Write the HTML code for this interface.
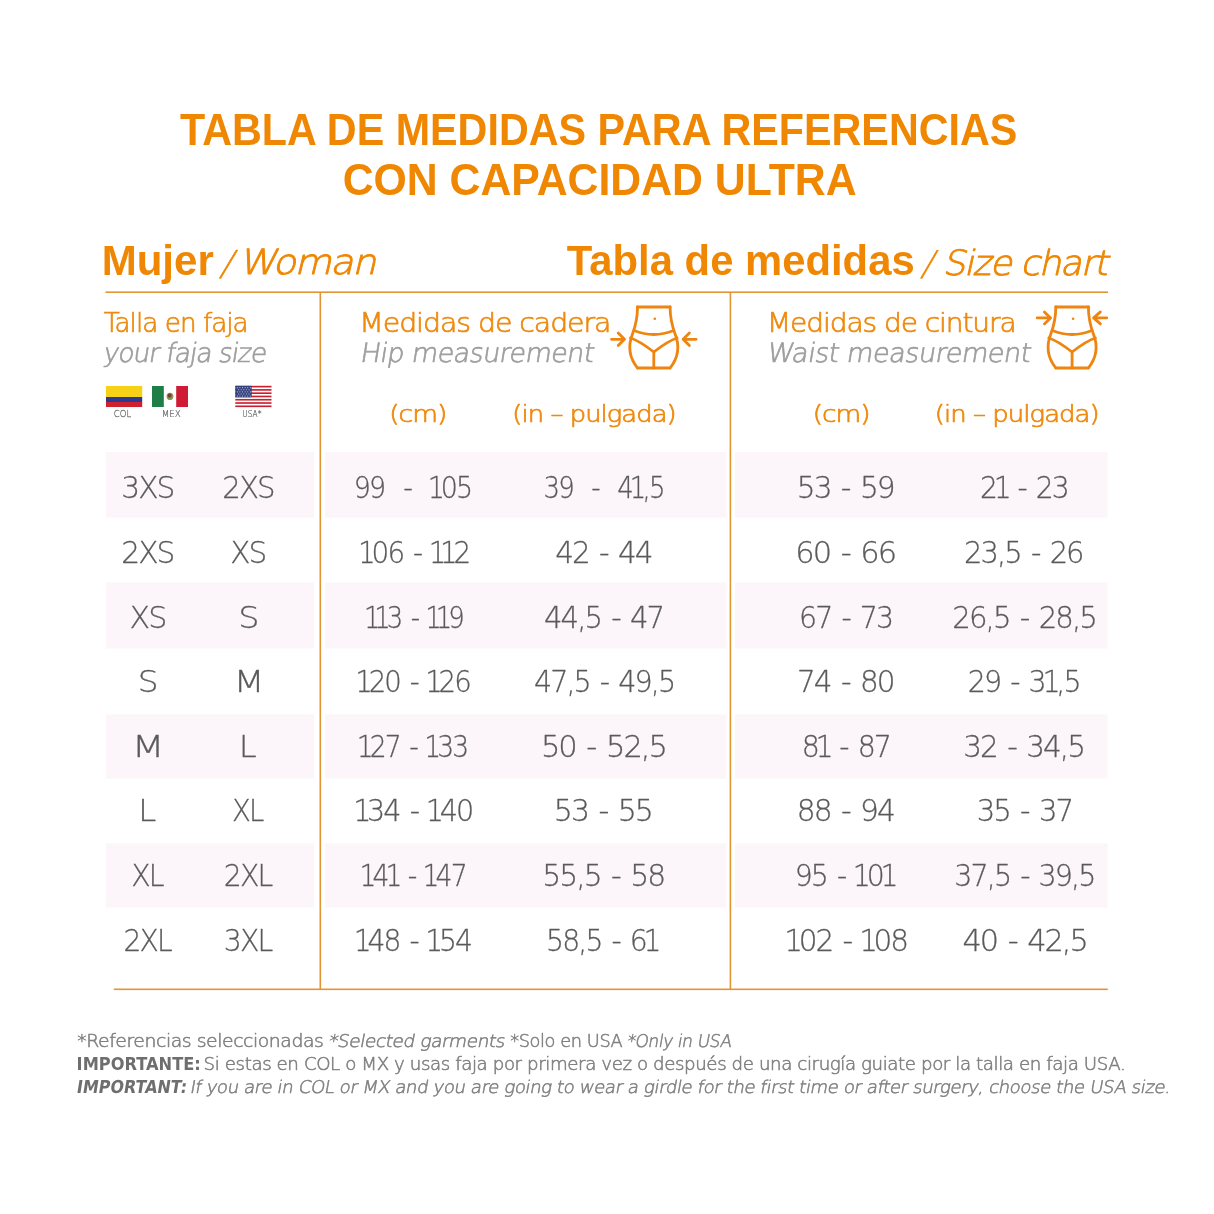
<!DOCTYPE html>
<html lang="es">
<head>
<meta charset="utf-8">
<title>Tabla de medidas</title>
<style>
html,body{margin:0;padding:0;background:#fff;}
body{width:1214px;height:1214px;overflow:hidden;position:relative;}
svg{position:absolute;left:0;top:0;}
</style>
</head>
<body>
<svg width="1214" height="1214" viewBox="0 0 1214 1214">
<rect width="1214" height="1214" fill="#fff"/>
<!-- pink bands -->
<g fill="#FCF5FA">
<rect x="106" y="452" width="208" height="65.5"/><rect x="325" y="452" width="401" height="65.5"/><rect x="735" y="452" width="372.5" height="65.5"/>
<rect x="106" y="582.5" width="208" height="66"/><rect x="325" y="582.5" width="401" height="66"/><rect x="735" y="582.5" width="372.5" height="66"/>
<rect x="106" y="714.5" width="208" height="64"/><rect x="325" y="714.5" width="401" height="64"/><rect x="735" y="714.5" width="372.5" height="64"/>
<rect x="106" y="843.5" width="208" height="64"/><rect x="325" y="843.5" width="401" height="64"/><rect x="735" y="843.5" width="372.5" height="64"/>
</g>
<!-- lines -->
<g fill="#E29633">
<rect x="105.5" y="291.4" width="1002.5" height="1.6"/>
<rect x="113.8" y="988.5" width="994" height="1.6"/>
<rect x="319.5" y="292" width="1.6" height="697.5"/>
<rect x="729.6" y="292" width="1.6" height="697.5"/>
</g>
<!-- flags -->
<g>
<rect x="106" y="386" width="36.2" height="11" fill="#F7D117"/>
<rect x="106" y="397" width="36.2" height="5" fill="#2B3990"/>
<rect x="106" y="402" width="36.2" height="5" fill="#D0202E"/>
<rect x="152" y="386" width="11.8" height="21" fill="#1E7E45"/>
<rect x="176.2" y="386" width="11.8" height="21" fill="#CF1B34"/>
<ellipse cx="170" cy="396.3" rx="3.4" ry="3.6" fill="#A58A5A"/>
<ellipse cx="169.6" cy="395.6" rx="2.0" ry="2.2" fill="#6B4A26"/>
<ellipse cx="170" cy="398.8" rx="2.6" ry="1.0" fill="#7C9A5A" opacity="0.8"/>
</g>
<g>
<rect x="235.3" y="385.8" width="36.2" height="21.3" fill="#fff"/>
<g fill="#C8202F">
<rect x="235.3" y="385.8" width="36.2" height="1.64"/>
<rect x="235.3" y="389.08" width="36.2" height="1.64"/>
<rect x="235.3" y="392.36" width="36.2" height="1.64"/>
<rect x="235.3" y="395.64" width="36.2" height="1.64"/>
<rect x="235.3" y="398.92" width="36.2" height="1.64"/>
<rect x="235.3" y="402.2" width="36.2" height="1.64"/>
<rect x="235.3" y="405.48" width="36.2" height="1.64"/>
</g>
<rect x="235.3" y="385.8" width="16.4" height="11.5" fill="#34407E"/>
<g fill="#C9CDE0"><rect x="236.8" y="387.2" width="1" height="1"/><rect x="239.4" y="387.2" width="1" height="1"/><rect x="242.0" y="387.2" width="1" height="1"/><rect x="244.6" y="387.2" width="1" height="1"/><rect x="247.2" y="387.2" width="1" height="1"/><rect x="249.8" y="387.2" width="1" height="1"/><rect x="238.1" y="389.3" width="1" height="1"/><rect x="240.7" y="389.3" width="1" height="1"/><rect x="243.3" y="389.3" width="1" height="1"/><rect x="245.9" y="389.3" width="1" height="1"/><rect x="248.5" y="389.3" width="1" height="1"/><rect x="236.8" y="391.4" width="1" height="1"/><rect x="239.4" y="391.4" width="1" height="1"/><rect x="242.0" y="391.4" width="1" height="1"/><rect x="244.6" y="391.4" width="1" height="1"/><rect x="247.2" y="391.4" width="1" height="1"/><rect x="249.8" y="391.4" width="1" height="1"/><rect x="238.1" y="393.5" width="1" height="1"/><rect x="240.7" y="393.5" width="1" height="1"/><rect x="243.3" y="393.5" width="1" height="1"/><rect x="245.9" y="393.5" width="1" height="1"/><rect x="248.5" y="393.5" width="1" height="1"/><rect x="236.8" y="395.6" width="1" height="1"/><rect x="239.4" y="395.6" width="1" height="1"/><rect x="242.0" y="395.6" width="1" height="1"/><rect x="244.6" y="395.6" width="1" height="1"/><rect x="247.2" y="395.6" width="1" height="1"/><rect x="249.8" y="395.6" width="1" height="1"/></g>
</g>
<!-- icons -->
<g id="hipicon" fill="none" stroke="#EE8510" stroke-width="2.8" stroke-linecap="round" stroke-linejoin="round">
<path d="M637.5,307 H670.1"/>
<path d="M637.5,307 C637.5,318 635.5,326 632.5,334 C628.5,344 628,356 637.5,368"/>
<path d="M670.1,307 C670.1,318 672.1,326 675.1,334 C679.1,344 679.6,356 670.1,368"/>
<path d="M637.5,368 H670.1"/>
<path d="M634,330.5 Q653.8,338.5 673.6,330.5"/>
<path d="M630.5,338 C637,340 646,346 653.8,352 C661.6,346 670.6,340 677.1,338"/>
<path d="M653.8,352 V368"/>
<path d="M611.5,339.3 H624.5 M618.2,333 L624.5,339.3 L618.2,345.6"/>
<path d="M696.1,339.3 H683.1 M689.4,333 L683.1,339.3 L689.4,345.6"/>
<circle cx="654.8" cy="318.7" r="1.3" fill="#EE8510" stroke="none"/>
</g>
<g fill="none" stroke="#EE8510" stroke-width="2.8" stroke-linecap="round" stroke-linejoin="round">
<g transform="translate(418.3 0)">
<path d="M637.5,307 H670.1"/>
<path d="M637.5,307 C637.5,318 635.5,326 632.5,334 C628.5,344 628,356 637.5,368"/>
<path d="M670.1,307 C670.1,318 672.1,326 675.1,334 C679.1,344 679.6,356 670.1,368"/>
<path d="M637.5,368 H670.1"/>
<path d="M634,330.5 Q653.8,338.5 673.6,330.5"/>
<path d="M630.5,338 C637,340 646,346 653.8,352 C661.6,346 670.6,340 677.1,338"/>
<path d="M653.8,352 V368"/>
<circle cx="654.8" cy="318.7" r="1.3" fill="#EE8510" stroke="none"/>
</g>
<path d="M1037.2,317.9 H1050.6 M1044.4,311.9 L1050.6,317.9 L1044.4,323.9"/>
<path d="M1106.7,317.9 H1093.6 M1100.4,311.9 L1093.6,317.9 L1100.4,323.9"/>
</g>
<!-- texts -->
<text transform="translate(180.08 145.00) scale(0.9305 1)" style="font-family:'Liberation Sans', sans-serif;font-weight:bold;font-size:44.387px;fill:#EF8703">TABLA DE MEDIDAS PARA REFERENCIAS</text>
<text transform="translate(342.70 194.70) scale(0.9613 1)" style="font-family:'Liberation Sans', sans-serif;font-weight:bold;font-size:44.502px;fill:#EF8703">CON CAPACIDAD ULTRA</text>
<text transform="translate(101.65 274.80) scale(0.9942 1)" style="font-family:'Liberation Sans', sans-serif;font-weight:bold;font-size:42.290px;fill:#EF8703">Mujer</text>
<text transform="translate(219.83 275.17) scale(0.9450 1) skewX(-18.00)" style="font-family:'DejaVu Sans', sans-serif;font-weight:200;font-size:34.192px;stroke:#EF8703;stroke-width:0.60px;stroke-linejoin:round;fill:#EF8703">/</text>
<text transform="translate(238.39 274.30) scale(1.1066 1) skewX(-12.00)" style="font-family:'DejaVu Sans', sans-serif;font-weight:200;font-size:34.726px;letter-spacing:-1.50px;stroke:#EF8703;stroke-width:0.90px;stroke-linejoin:round;fill:#EF8703">Woman</text>
<text transform="translate(566.87 274.80) scale(0.9889 1)" style="font-family:'Liberation Sans', sans-serif;font-weight:bold;font-size:42.290px;fill:#EF8703">Tabla de medidas</text>
<text transform="translate(920.91 275.17) scale(0.9203 1) skewX(-18.00)" style="font-family:'DejaVu Sans', sans-serif;font-weight:200;font-size:33.802px;stroke:#EF8703;stroke-width:0.60px;stroke-linejoin:round;fill:#EF8703">/</text>
<text transform="translate(942.38 274.50) scale(1.0409 1) skewX(-12.00)" style="font-family:'DejaVu Sans', sans-serif;font-weight:200;font-size:34.726px;letter-spacing:-1.50px;stroke:#EF8703;stroke-width:0.90px;stroke-linejoin:round;fill:#EF8703">Size chart</text>
<text transform="translate(103.78 332.40) scale(0.9675 1)" style="font-family:'DejaVu Sans', sans-serif;font-weight:200;font-size:27.124px;letter-spacing:-1.00px;stroke:#EE8A0E;stroke-width:0.70px;stroke-linejoin:round;fill:#EE8A0E">Talla en faja</text>
<text transform="translate(102.61 361.80) scale(0.9939 1) skewX(-9.00)" style="font-family:'DejaVu Sans', sans-serif;font-weight:200;font-size:26.550px;letter-spacing:-1.00px;stroke:#9E9E9E;stroke-width:0.70px;stroke-linejoin:round;fill:#9E9E9E">your faja size</text>
<text transform="translate(359.32 332.10) scale(1.0692 1)" style="font-family:'DejaVu Sans', sans-serif;font-weight:200;font-size:26.582px;letter-spacing:-1.00px;stroke:#EE8A0E;stroke-width:0.70px;stroke-linejoin:round;fill:#EE8A0E">Medidas de cadera</text>
<text transform="translate(359.47 361.70) scale(1.0116 1) skewX(-9.00)" style="font-family:'DejaVu Sans', sans-serif;font-weight:200;font-size:26.582px;letter-spacing:-0.50px;stroke:#9E9E9E;stroke-width:0.70px;stroke-linejoin:round;fill:#9E9E9E">Hip measurement</text>
<text transform="translate(766.98 332.10) scale(1.0541 1)" style="font-family:'DejaVu Sans', sans-serif;font-weight:200;font-size:26.582px;letter-spacing:-1.00px;stroke:#EE8A0E;stroke-width:0.70px;stroke-linejoin:round;fill:#EE8A0E">Medidas de cintura</text>
<text transform="translate(766.23 361.70) scale(1.0216 1) skewX(-9.00)" style="font-family:'DejaVu Sans', sans-serif;font-weight:200;font-size:26.582px;letter-spacing:-0.50px;stroke:#9E9E9E;stroke-width:0.70px;stroke-linejoin:round;fill:#9E9E9E">Waist measurement</text>
<text transform="translate(389.15 421.90) scale(1.1737 1)" style="font-family:'DejaVu Sans', sans-serif;font-weight:200;font-size:22.558px;letter-spacing:-0.80px;stroke:#EE8A0E;stroke-width:0.70px;stroke-linejoin:round;fill:#EE8A0E">(cm)</text>
<text transform="translate(512.31 421.90) scale(1.1442 1)" style="font-family:'DejaVu Sans', sans-serif;font-weight:200;font-size:22.558px;letter-spacing:-0.80px;stroke:#EE8A0E;stroke-width:0.70px;stroke-linejoin:round;fill:#EE8A0E">(in – pulgada)</text>
<text transform="translate(812.66 421.90) scale(1.1693 1)" style="font-family:'DejaVu Sans', sans-serif;font-weight:200;font-size:22.558px;letter-spacing:-0.80px;stroke:#EE8A0E;stroke-width:0.70px;stroke-linejoin:round;fill:#EE8A0E">(cm)</text>
<text transform="translate(934.70 421.90) scale(1.1484 1)" style="font-family:'DejaVu Sans', sans-serif;font-weight:200;font-size:22.558px;letter-spacing:-0.80px;stroke:#EE8A0E;stroke-width:0.70px;stroke-linejoin:round;fill:#EE8A0E">(in – pulgada)</text>
<text transform="translate(113.79 417.20) scale(0.9109 1)" style="font-family:'DejaVu Sans', sans-serif;font-weight:200;font-size:9.317px;stroke:#6a6a6a;stroke-width:0.25px;stroke-linejoin:round;fill:#6a6a6a">COL</text>
<text transform="translate(161.74 417.20) scale(0.9436 1)" style="font-family:'DejaVu Sans', sans-serif;font-weight:200;font-size:9.317px;stroke:#6a6a6a;stroke-width:0.25px;stroke-linejoin:round;fill:#6a6a6a">MEX</text>
<text transform="translate(242.20 417.20) scale(0.8029 1)" style="font-family:'DejaVu Sans', sans-serif;font-weight:200;font-size:9.317px;stroke:#6a6a6a;stroke-width:0.25px;stroke-linejoin:round;fill:#6a6a6a">USA*</text>
<text transform="translate(77.24 1047.40) scale(1.0779 1)" style="font-family:'DejaVu Sans', sans-serif;font-weight:200;font-size:17.465px;letter-spacing:-0.40px;stroke:#808080;stroke-width:0.55px;stroke-linejoin:round;fill:#808080">*Referencias seleccionadas</text>
<text transform="translate(327.93 1047.40) scale(1.0646 1) skewX(-10.00)" style="font-family:'DejaVu Sans', sans-serif;font-weight:200;font-size:17.465px;letter-spacing:-0.40px;stroke:#808080;stroke-width:0.55px;stroke-linejoin:round;fill:#808080">*Selected garments</text>
<text transform="translate(510.16 1047.40) scale(1.0182 1)" style="font-family:'DejaVu Sans', sans-serif;font-weight:200;font-size:17.465px;letter-spacing:-0.40px;stroke:#808080;stroke-width:0.55px;stroke-linejoin:round;fill:#808080">*Solo en USA</text>
<text transform="translate(626.38 1047.40) scale(0.9748 1) skewX(-10.00)" style="font-family:'DejaVu Sans', sans-serif;font-weight:200;font-size:17.465px;letter-spacing:-0.40px;stroke:#808080;stroke-width:0.55px;stroke-linejoin:round;fill:#808080">*Only in USA</text>
<text transform="translate(76.59 1070.00) scale(0.9067 1)" style="font-family:'DejaVu Sans', sans-serif;font-weight:bold;font-size:17.901px;fill:#6E6E6E">IMPORTANTE:</text>
<text transform="translate(203.61 1070.00) scale(1.0439 1)" style="font-family:'DejaVu Sans', sans-serif;font-weight:200;font-size:17.465px;letter-spacing:-0.40px;stroke:#808080;stroke-width:0.55px;stroke-linejoin:round;fill:#808080">Si estas en COL o MX y usas faja por primera vez o después de una cirugía guiate por la talla en faja USA.</text>
<text transform="translate(76.12 1092.60) scale(0.8893 1) skewX(-10.00)" style="font-family:'DejaVu Sans', sans-serif;font-weight:bold;font-size:17.901px;fill:#6E6E6E">IMPORTANT:</text>
<text transform="translate(189.52 1092.60) scale(1.0388 1) skewX(-10.00)" style="font-family:'DejaVu Sans', sans-serif;font-weight:200;font-size:17.465px;letter-spacing:-0.40px;stroke:#808080;stroke-width:0.55px;stroke-linejoin:round;fill:#808080">If you are in COL or MX and you are going to wear a girdle for the first time or after surgery, choose the USA size.</text>
<text transform="translate(121.33 498.40) scale(0.9874 1)" style="font-family:'DejaVu Sans', sans-serif;font-weight:200;font-size:30.047px;letter-spacing:-2.00px;stroke:#5A5A5A;stroke-width:0.30px;stroke-linejoin:round;fill:#5A5A5A"><tspan dx="0.0 0.0 0.0">3XS</tspan></text>
<text transform="translate(222.26 498.40) scale(0.9715 1)" style="font-family:'DejaVu Sans', sans-serif;font-weight:200;font-size:30.047px;letter-spacing:-2.00px;stroke:#5A5A5A;stroke-width:0.30px;stroke-linejoin:round;fill:#5A5A5A"><tspan dx="0.0 0.0 0.0">2XS</tspan></text>
<text transform="translate(353.82 498.40) scale(0.8930 1)" style="font-family:'DejaVu Sans', sans-serif;font-weight:200;font-size:30.047px;letter-spacing:-2.00px;stroke:#5A5A5A;stroke-width:0.30px;stroke-linejoin:round;fill:#5A5A5A"><tspan dx="0.0 0.0 0.0 3.0 3.0 0.0 3.0 0.5 -2.5 0.0">99  -  105</tspan></text>
<text transform="translate(543.57 498.40) scale(0.8625 1)" style="font-family:'DejaVu Sans', sans-serif;font-weight:200;font-size:30.047px;letter-spacing:-2.00px;stroke:#5A5A5A;stroke-width:0.30px;stroke-linejoin:round;fill:#5A5A5A"><tspan dx="0.0 0.0 0.0 3.0 3.0 0.0 3.0 3.0 -2.5 -2.5 0.0">39  -  41,5</tspan></text>
<text transform="translate(796.78 498.40) scale(0.9839 1)" style="font-family:'DejaVu Sans', sans-serif;font-weight:200;font-size:30.047px;letter-spacing:-2.00px;stroke:#5A5A5A;stroke-width:0.30px;stroke-linejoin:round;fill:#5A5A5A"><tspan dx="0.0 0.0 0.0 3.0 0.0 3.0 0.0">53 - 59</tspan></text>
<text transform="translate(980.12 498.40) scale(0.9387 1)" style="font-family:'DejaVu Sans', sans-serif;font-weight:200;font-size:30.047px;letter-spacing:-2.00px;stroke:#5A5A5A;stroke-width:0.30px;stroke-linejoin:round;fill:#5A5A5A"><tspan dx="0.0 -2.5 -2.5 3.0 0.0 3.0 0.0">21 - 23</tspan></text>
<text transform="translate(121.33 563.00) scale(0.9874 1)" style="font-family:'DejaVu Sans', sans-serif;font-weight:200;font-size:30.047px;letter-spacing:-2.00px;stroke:#5A5A5A;stroke-width:0.30px;stroke-linejoin:round;fill:#5A5A5A"><tspan dx="0.0 0.0 0.0">2XS</tspan></text>
<text transform="translate(230.26 563.00) scale(0.9832 1)" style="font-family:'DejaVu Sans', sans-serif;font-weight:200;font-size:30.047px;letter-spacing:-2.00px;stroke:#5A5A5A;stroke-width:0.30px;stroke-linejoin:round;fill:#5A5A5A"><tspan dx="0.0 0.0">XS</tspan></text>
<text transform="translate(360.38 563.00) scale(0.9250 1)" style="font-family:'DejaVu Sans', sans-serif;font-weight:200;font-size:30.047px;letter-spacing:-2.00px;stroke:#5A5A5A;stroke-width:0.30px;stroke-linejoin:round;fill:#5A5A5A"><tspan dx="-2.5 -2.5 0.0 0.0 3.0 0.0 0.5 -5.0 -2.5">106 - 112</tspan></text>
<text transform="translate(555.20 563.00) scale(0.9784 1)" style="font-family:'DejaVu Sans', sans-serif;font-weight:200;font-size:30.047px;letter-spacing:-2.00px;stroke:#5A5A5A;stroke-width:0.30px;stroke-linejoin:round;fill:#5A5A5A"><tspan dx="0.0 0.0 0.0 3.0 0.0 3.0 0.0">42 - 44</tspan></text>
<text transform="translate(795.30 563.00) scale(1.0133 1)" style="font-family:'DejaVu Sans', sans-serif;font-weight:200;font-size:30.047px;letter-spacing:-2.00px;stroke:#5A5A5A;stroke-width:0.30px;stroke-linejoin:round;fill:#5A5A5A"><tspan dx="0.0 0.0 0.0 3.0 0.0 3.0 0.0">60 - 66</tspan></text>
<text transform="translate(964.07 563.00) scale(0.9630 1)" style="font-family:'DejaVu Sans', sans-serif;font-weight:200;font-size:30.047px;letter-spacing:-2.00px;stroke:#5A5A5A;stroke-width:0.30px;stroke-linejoin:round;fill:#5A5A5A"><tspan dx="0.0 0.0 0.0 0.0 0.0 3.0 0.0 3.0 0.0">23,5 - 26</tspan></text>
<text transform="translate(129.53 627.60) scale(1.0010 1)" style="font-family:'DejaVu Sans', sans-serif;font-weight:200;font-size:30.047px;letter-spacing:-2.00px;stroke:#5A5A5A;stroke-width:0.30px;stroke-linejoin:round;fill:#5A5A5A"><tspan dx="0.0 0.0">XS</tspan></text>
<text transform="translate(238.23 627.60) scale(1.1143 1)" style="font-family:'DejaVu Sans', sans-serif;font-weight:200;font-size:30.047px;letter-spacing:-2.00px;stroke:#5A5A5A;stroke-width:0.30px;stroke-linejoin:round;fill:#5A5A5A"><tspan dx="0.0">S</tspan></text>
<text transform="translate(366.03 627.60) scale(0.8605 1)" style="font-family:'DejaVu Sans', sans-serif;font-weight:200;font-size:30.047px;letter-spacing:-2.00px;stroke:#5A5A5A;stroke-width:0.30px;stroke-linejoin:round;fill:#5A5A5A"><tspan dx="-2.5 -5.0 -2.5 0.0 3.0 0.0 0.5 -5.0 -2.5">113 - 119</tspan></text>
<text transform="translate(544.01 627.60) scale(0.9671 1)" style="font-family:'DejaVu Sans', sans-serif;font-weight:200;font-size:30.047px;letter-spacing:-2.00px;stroke:#5A5A5A;stroke-width:0.30px;stroke-linejoin:round;fill:#5A5A5A"><tspan dx="0.0 0.0 0.0 0.0 0.0 3.0 0.0 3.0 0.0">44,5 - 47</tspan></text>
<text transform="translate(799.08 627.60) scale(0.9444 1)" style="font-family:'DejaVu Sans', sans-serif;font-weight:200;font-size:30.047px;letter-spacing:-2.00px;stroke:#5A5A5A;stroke-width:0.30px;stroke-linejoin:round;fill:#5A5A5A"><tspan dx="0.0 0.0 0.0 3.0 0.0 3.0 0.0">67 - 73</tspan></text>
<text transform="translate(952.36 627.60) scale(0.9712 1)" style="font-family:'DejaVu Sans', sans-serif;font-weight:200;font-size:30.047px;letter-spacing:-2.00px;stroke:#5A5A5A;stroke-width:0.30px;stroke-linejoin:round;fill:#5A5A5A"><tspan dx="0.0 0.0 0.0 0.0 0.0 3.0 0.0 3.0 0.0 0.0 0.0">26,5 - 28,5</tspan></text>
<text transform="translate(137.79 692.20) scale(1.0929 1)" style="font-family:'DejaVu Sans', sans-serif;font-weight:200;font-size:30.047px;letter-spacing:-2.00px;stroke:#5A5A5A;stroke-width:0.30px;stroke-linejoin:round;fill:#5A5A5A"><tspan dx="0.0">S</tspan></text>
<text transform="translate(233.40 692.20) scale(1.2000 1)" style="font-family:'DejaVu Sans', sans-serif;font-weight:200;font-size:30.047px;letter-spacing:-2.00px;stroke:#5A5A5A;stroke-width:0.30px;stroke-linejoin:round;fill:#5A5A5A"><tspan dx="0.0">M</tspan></text>
<text transform="translate(357.59 692.20) scale(0.9165 1)" style="font-family:'DejaVu Sans', sans-serif;font-weight:200;font-size:30.047px;letter-spacing:-2.00px;stroke:#5A5A5A;stroke-width:0.30px;stroke-linejoin:round;fill:#5A5A5A"><tspan dx="-2.5 -2.5 0.0 0.0 3.0 0.0 0.5 -2.5 0.0">120 - 126</tspan></text>
<text transform="translate(533.93 692.20) scale(0.9495 1)" style="font-family:'DejaVu Sans', sans-serif;font-weight:200;font-size:30.047px;letter-spacing:-2.00px;stroke:#5A5A5A;stroke-width:0.30px;stroke-linejoin:round;fill:#5A5A5A"><tspan dx="0.0 0.0 0.0 0.0 0.0 3.0 0.0 3.0 0.0 0.0 0.0">47,5 - 49,5</tspan></text>
<text transform="translate(797.12 692.20) scale(0.9787 1)" style="font-family:'DejaVu Sans', sans-serif;font-weight:200;font-size:30.047px;letter-spacing:-2.00px;stroke:#5A5A5A;stroke-width:0.30px;stroke-linejoin:round;fill:#5A5A5A"><tspan dx="0.0 0.0 0.0 3.0 0.0 3.0 0.0">74 - 80</tspan></text>
<text transform="translate(967.81 692.20) scale(0.9470 1)" style="font-family:'DejaVu Sans', sans-serif;font-weight:200;font-size:30.047px;letter-spacing:-2.00px;stroke:#5A5A5A;stroke-width:0.30px;stroke-linejoin:round;fill:#5A5A5A"><tspan dx="0.0 0.0 0.0 3.0 0.0 3.0 -2.5 -2.5 0.0">29 - 31,5</tspan></text>
<text transform="translate(131.79 756.80) scale(1.2660 1)" style="font-family:'DejaVu Sans', sans-serif;font-weight:200;font-size:30.047px;letter-spacing:-2.00px;stroke:#5A5A5A;stroke-width:0.30px;stroke-linejoin:round;fill:#5A5A5A"><tspan dx="0.0">M</tspan></text>
<text transform="translate(239.04 756.80) scale(1.0541 1)" style="font-family:'DejaVu Sans', sans-serif;font-weight:200;font-size:30.047px;letter-spacing:-2.00px;stroke:#5A5A5A;stroke-width:0.30px;stroke-linejoin:round;fill:#5A5A5A"><tspan dx="0.0">L</tspan></text>
<text transform="translate(359.01 756.80) scale(0.8843 1)" style="font-family:'DejaVu Sans', sans-serif;font-weight:200;font-size:30.047px;letter-spacing:-2.00px;stroke:#5A5A5A;stroke-width:0.30px;stroke-linejoin:round;fill:#5A5A5A"><tspan dx="-2.5 -2.5 0.0 0.0 3.0 0.0 0.5 -2.5 0.0">127 - 133</tspan></text>
<text transform="translate(540.89 756.80) scale(1.0156 1)" style="font-family:'DejaVu Sans', sans-serif;font-weight:200;font-size:30.047px;letter-spacing:-2.00px;stroke:#5A5A5A;stroke-width:0.30px;stroke-linejoin:round;fill:#5A5A5A"><tspan dx="0.0 0.0 0.0 3.0 0.0 3.0 0.0 0.0 0.0">50 - 52,5</tspan></text>
<text transform="translate(801.68 756.80) scale(0.9457 1)" style="font-family:'DejaVu Sans', sans-serif;font-weight:200;font-size:30.047px;letter-spacing:-2.00px;stroke:#5A5A5A;stroke-width:0.30px;stroke-linejoin:round;fill:#5A5A5A"><tspan dx="0.0 -2.5 -2.5 3.0 0.0 3.0 0.0">81 - 87</tspan></text>
<text transform="translate(963.24 756.80) scale(0.9800 1)" style="font-family:'DejaVu Sans', sans-serif;font-weight:200;font-size:30.047px;letter-spacing:-2.00px;stroke:#5A5A5A;stroke-width:0.30px;stroke-linejoin:round;fill:#5A5A5A"><tspan dx="0.0 0.0 0.0 3.0 0.0 3.0 0.0 0.0 0.0">32 - 34,5</tspan></text>
<text transform="translate(138.25 821.40) scale(1.0784 1)" style="font-family:'DejaVu Sans', sans-serif;font-weight:200;font-size:30.047px;letter-spacing:-2.00px;stroke:#5A5A5A;stroke-width:0.30px;stroke-linejoin:round;fill:#5A5A5A"><tspan dx="0.0">L</tspan></text>
<text transform="translate(232.07 821.40) scale(0.9152 1)" style="font-family:'DejaVu Sans', sans-serif;font-weight:200;font-size:30.047px;letter-spacing:-2.00px;stroke:#5A5A5A;stroke-width:0.30px;stroke-linejoin:round;fill:#5A5A5A"><tspan dx="0.0 0.0">XL</tspan></text>
<text transform="translate(355.57 821.40) scale(0.9511 1)" style="font-family:'DejaVu Sans', sans-serif;font-weight:200;font-size:30.047px;letter-spacing:-2.00px;stroke:#5A5A5A;stroke-width:0.30px;stroke-linejoin:round;fill:#5A5A5A"><tspan dx="-2.5 -2.5 0.0 0.0 3.0 0.0 0.5 -2.5 0.0">134 - 140</tspan></text>
<text transform="translate(553.84 821.40) scale(0.9961 1)" style="font-family:'DejaVu Sans', sans-serif;font-weight:200;font-size:30.047px;letter-spacing:-2.00px;stroke:#5A5A5A;stroke-width:0.30px;stroke-linejoin:round;fill:#5A5A5A"><tspan dx="0.0 0.0 0.0 3.0 0.0 3.0 0.0">53 - 55</tspan></text>
<text transform="translate(796.77 821.40) scale(0.9868 1)" style="font-family:'DejaVu Sans', sans-serif;font-weight:200;font-size:30.047px;letter-spacing:-2.00px;stroke:#5A5A5A;stroke-width:0.30px;stroke-linejoin:round;fill:#5A5A5A"><tspan dx="0.0 0.0 0.0 3.0 0.0 3.0 0.0">88 - 94</tspan></text>
<text transform="translate(976.66 821.40) scale(0.9692 1)" style="font-family:'DejaVu Sans', sans-serif;font-weight:200;font-size:30.047px;letter-spacing:-2.00px;stroke:#5A5A5A;stroke-width:0.30px;stroke-linejoin:round;fill:#5A5A5A"><tspan dx="0.0 0.0 0.0 3.0 0.0 3.0 0.0">35 - 37</tspan></text>
<text transform="translate(131.13 886.00) scale(0.9424 1)" style="font-family:'DejaVu Sans', sans-serif;font-weight:200;font-size:30.047px;letter-spacing:-2.00px;stroke:#5A5A5A;stroke-width:0.30px;stroke-linejoin:round;fill:#5A5A5A"><tspan dx="0.0 0.0">XL</tspan></text>
<text transform="translate(223.82 886.00) scale(0.9423 1)" style="font-family:'DejaVu Sans', sans-serif;font-weight:200;font-size:30.047px;letter-spacing:-2.00px;stroke:#5A5A5A;stroke-width:0.30px;stroke-linejoin:round;fill:#5A5A5A"><tspan dx="0.0 0.0 0.0">2XL</tspan></text>
<text transform="translate(361.81 886.00) scale(0.8836 1)" style="font-family:'DejaVu Sans', sans-serif;font-weight:200;font-size:30.047px;letter-spacing:-2.00px;stroke:#5A5A5A;stroke-width:0.30px;stroke-linejoin:round;fill:#5A5A5A"><tspan dx="-2.5 -2.5 -2.5 -2.5 3.0 0.0 0.5 -2.5 0.0">141 - 147</tspan></text>
<text transform="translate(542.36 886.00) scale(0.9894 1)" style="font-family:'DejaVu Sans', sans-serif;font-weight:200;font-size:30.047px;letter-spacing:-2.00px;stroke:#5A5A5A;stroke-width:0.30px;stroke-linejoin:round;fill:#5A5A5A"><tspan dx="0.0 0.0 0.0 0.0 0.0 3.0 0.0 3.0 0.0">55,5 - 58</tspan></text>
<text transform="translate(794.69 886.00) scale(0.9423 1)" style="font-family:'DejaVu Sans', sans-serif;font-weight:200;font-size:30.047px;letter-spacing:-2.00px;stroke:#5A5A5A;stroke-width:0.30px;stroke-linejoin:round;fill:#5A5A5A"><tspan dx="0.0 0.0 0.0 3.0 0.0 0.5 -2.5 -2.5">95 - 101</tspan></text>
<text transform="translate(954.30 886.00) scale(0.9484 1)" style="font-family:'DejaVu Sans', sans-serif;font-weight:200;font-size:30.047px;letter-spacing:-2.00px;stroke:#5A5A5A;stroke-width:0.30px;stroke-linejoin:round;fill:#5A5A5A"><tspan dx="0.0 0.0 0.0 0.0 0.0 3.0 0.0 3.0 0.0 0.0 0.0">37,5 - 39,5</tspan></text>
<text transform="translate(123.53 950.60) scale(0.9362 1)" style="font-family:'DejaVu Sans', sans-serif;font-weight:200;font-size:30.047px;letter-spacing:-2.00px;stroke:#5A5A5A;stroke-width:0.30px;stroke-linejoin:round;fill:#5A5A5A"><tspan dx="0.0 0.0 0.0">2XL</tspan></text>
<text transform="translate(223.82 950.60) scale(0.9423 1)" style="font-family:'DejaVu Sans', sans-serif;font-weight:200;font-size:30.047px;letter-spacing:-2.00px;stroke:#5A5A5A;stroke-width:0.30px;stroke-linejoin:round;fill:#5A5A5A"><tspan dx="0.0 0.0 0.0">3XL</tspan></text>
<text transform="translate(356.18 950.60) scale(0.9370 1)" style="font-family:'DejaVu Sans', sans-serif;font-weight:200;font-size:30.047px;letter-spacing:-2.00px;stroke:#5A5A5A;stroke-width:0.30px;stroke-linejoin:round;fill:#5A5A5A"><tspan dx="-2.5 -2.5 0.0 0.0 3.0 0.0 0.5 -2.5 0.0">148 - 154</tspan></text>
<text transform="translate(546.09 950.60) scale(0.9411 1)" style="font-family:'DejaVu Sans', sans-serif;font-weight:200;font-size:30.047px;letter-spacing:-2.00px;stroke:#5A5A5A;stroke-width:0.30px;stroke-linejoin:round;fill:#5A5A5A"><tspan dx="0.0 0.0 0.0 0.0 0.0 3.0 0.0 3.0 -2.5">58,5 - 61</tspan></text>
<text transform="translate(786.75 950.60) scale(0.9808 1)" style="font-family:'DejaVu Sans', sans-serif;font-weight:200;font-size:30.047px;letter-spacing:-2.00px;stroke:#5A5A5A;stroke-width:0.30px;stroke-linejoin:round;fill:#5A5A5A"><tspan dx="-2.5 -2.5 0.0 0.0 3.0 0.0 0.5 -2.5 0.0">102 - 108</tspan></text>
<text transform="translate(962.45 950.60) scale(1.0094 1)" style="font-family:'DejaVu Sans', sans-serif;font-weight:200;font-size:30.047px;letter-spacing:-2.00px;stroke:#5A5A5A;stroke-width:0.30px;stroke-linejoin:round;fill:#5A5A5A"><tspan dx="0.0 0.0 0.0 3.0 0.0 3.0 0.0 0.0 0.0">40 - 42,5</tspan></text>
</svg>
</body>
</html>
